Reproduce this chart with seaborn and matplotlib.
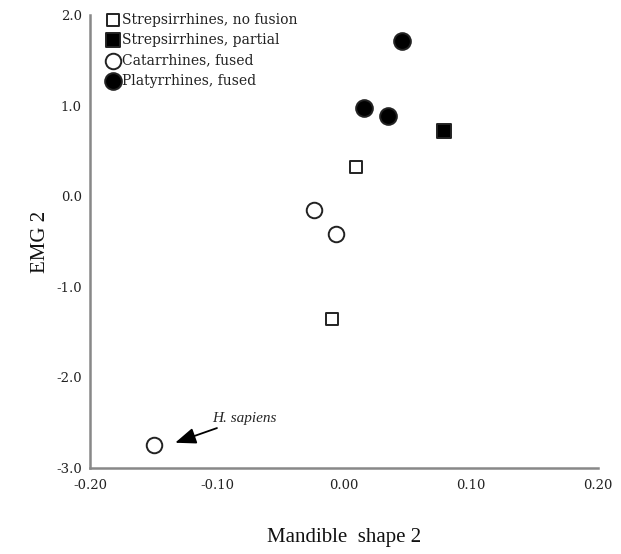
import pandas as pd
import matplotlib
matplotlib.use("Agg")
import matplotlib.pyplot as plt
import seaborn as sns

# data
groups = ["Strepsirrhines, no fusion", "Strepsirrhines, partial",
          "Catarrhines, fused", "Platyrrhines, fused"]
group_x = {
    "Strepsirrhines, no fusion": [0.0095, -0.0097],
    "Strepsirrhines, partial": [0.079],
    "Catarrhines, fused": [-0.0235, -0.006, -0.150],
    "Platyrrhines, fused": [0.046, 0.016, 0.035],
}
group_y = {
    "Strepsirrhines, no fusion": [0.32, -1.36],
    "Strepsirrhines, partial": [0.72],
    "Catarrhines, fused": [-0.15, -0.42, -2.75],
    "Platyrrhines, fused": [1.71, 0.97, 0.89],
}
x_ticks = [-0.20, -0.10, 0.00, 0.10, 0.20]
x_ticklabels = ["-0.20", "-0.10", "0.00", "0.10", "0.20"]
y_ticks = [-3.0, -2.0, -1.0, 0.0, 1.0, 2.0]
y_ticklabels = ["-3.0", "-2.0", "-1.0", "0.0", "1.0", "2.0"]

rows = []
for g in groups:
    for xv, yv in zip(group_x[g], group_y[g]):
        rows.append({"shape": xv, "emg": yv, "group": g})
df = pd.DataFrame(rows)

markers = {"Strepsirrhines, no fusion": "s", "Strepsirrhines, partial": "s",
           "Catarrhines, fused": "o", "Platyrrhines, fused": "o"}
faces = {"Strepsirrhines, no fusion": "white", "Strepsirrhines, partial": "black",
         "Catarrhines, fused": "white", "Platyrrhines, fused": "black"}
sizes = {"Strepsirrhines, no fusion": 80, "Strepsirrhines, partial": 95,
         "Catarrhines, fused": 125, "Platyrrhines, fused": 145}

sns.set_style("white")
plt.rcParams["font.family"] = ["DejaVu Serif"]

fig = plt.figure(figsize=(6.21, 5.54), dpi=100)
ax = fig.add_axes([0.145, 0.155, 0.818, 0.818])

for g in groups:
    sub = df[df["group"] == g]
    sns.scatterplot(data=sub, x="shape", y="emg", marker=markers[g],
                    color=faces[g], edgecolor="#222222", linewidth=1.4,
                    s=sizes[g], label=g, ax=ax, zorder=3)

ax.set_xlim(-0.20, 0.20)
ax.set_ylim(-3.0, 2.0)
ax.set_xticks(x_ticks)
ax.set_xticklabels(x_ticklabels)
ax.set_yticks(y_ticks)
ax.set_yticklabels(y_ticklabels)
ax.tick_params(axis="both", direction="out", length=4, width=1.2,
               color="#888888", labelsize=9.5, pad=2, labelcolor="#222222")
ax.tick_params(axis="x", pad=4)

for side in ["top", "right"]:
    ax.spines[side].set_visible(False)
for side in ["left", "bottom"]:
    ax.spines[side].set_color("#888888")
    ax.spines[side].set_linewidth(1.8)

ax.set_xlabel("Mandible  shape 2", fontsize=15, family="Liberation Serif",
              labelpad=26, color="#111111")
ax.set_ylabel("EMG 2", fontsize=15, family="Liberation Serif",
              labelpad=4, color="#111111")

# H. sapiens annotation
ax.annotate("H. sapiens", xy=(-0.133, -2.72), xytext=(-0.1035, -2.45),
            fontsize=11, style="italic", family="Liberation Serif",
            va="center", ha="left",
            arrowprops=dict(arrowstyle="-|>,head_width=0.35,head_length=0.9",
                            color="black", lw=1.3,
                            mutation_scale=14, shrinkA=0, shrinkB=0))

leg = ax.legend(loc="upper left", bbox_to_anchor=(0.015, 1.02), frameon=False,
                fontsize=10, handletextpad=0.05, labelspacing=0.45,
                borderpad=0, handlelength=1.2, markerscale=1.0)
for t in leg.get_texts():
    t.set_color("#222222")

fig.savefig("out.png", dpi=100)
